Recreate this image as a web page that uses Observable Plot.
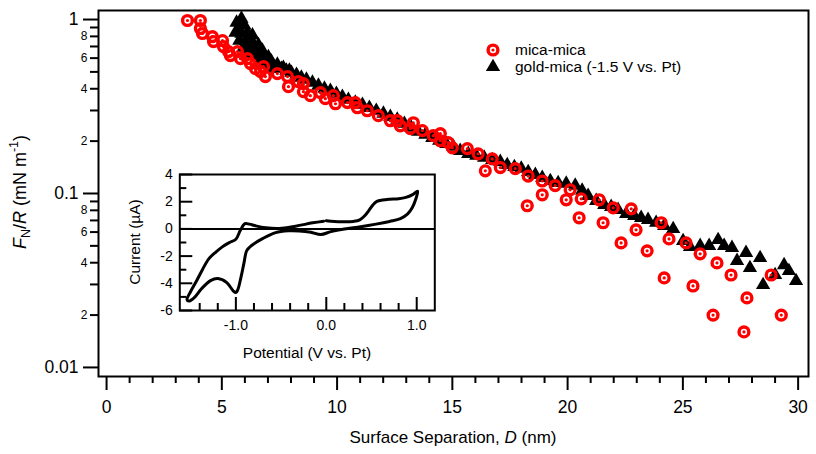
<!DOCTYPE html>
<html>
<head>
<meta charset="utf-8">
<script src="https://cdn.jsdelivr.net/npm/d3@7"></script>
<script src="https://cdn.jsdelivr.net/npm/@observablehq/plot@0.6"></script>
<style>
  body { margin: 0; background: #fff; }
  #chart { position: relative; width: 816px; height: 454px; font-family: "Liberation Sans", Arial, sans-serif; }
  #chart svg { position: absolute; left: 0; top: 0; overflow: visible; }
</style>
</head>
<body>
<div id="chart"></div>
<script>
// Normalised force vs. surface separation, mica-mica
const micaD = [3.51, 4.07, 4.07, 4.16, 4.59, 4.64, 5.03, 5.07, 5.29, 5.37, 5.68, 5.81, 6.11, 6.24, 6.46, 6.68, 6.89, 6.81, 7.41, 7.85,
  7.89, 8.32, 8.54, 8.54, 8.84, 9.28, 9.49, 9.84, 9.93, 10.45, 10.79, 10.88, 11.31, 11.79, 12.31, 12.61, 12.74, 13.18, 13.31, 13.70,
  14.17, 14.48, 14.48, 14.82, 15.00, 15.65, 16.12, 16.73, 16.43, 17.08, 17.73, 18.29, 18.90, 18.90, 18.25, 19.46, 20.11, 19.94, 20.50, 20.59,
  21.37, 21.54, 21.98, 22.32, 22.76, 22.97, 23.45, 24.06, 24.40, 24.19, 25.14, 25.44, 25.75, 26.48, 26.31, 27.09, 27.78, 27.65, 28.83, 29.27];
const micaF = [0.987, 0.987, 0.888, 0.831, 0.798, 0.747, 0.757, 0.699, 0.654, 0.621, 0.654, 0.596, 0.596, 0.558, 0.522, 0.502, 0.470, 0.536, 0.489, 0.470,
  0.411, 0.440, 0.385, 0.428, 0.365, 0.380, 0.351, 0.365, 0.328, 0.333, 0.333, 0.311, 0.299, 0.280, 0.262, 0.262, 0.245, 0.236, 0.255, 0.230,
  0.215, 0.221, 0.201, 0.196, 0.183, 0.181, 0.169, 0.158, 0.135, 0.141, 0.139, 0.126, 0.118, 0.0983, 0.0850, 0.111, 0.105, 0.0920, 0.0725, 0.0932,
  0.0920, 0.0679, 0.0827, 0.0520, 0.0816, 0.0618, 0.0468, 0.0679, 0.0548, 0.0327, 0.0520, 0.0294, 0.0450, 0.0399, 0.0200, 0.0340, 0.0251, 0.0160, 0.0340, 0.0200];

// gold-mica at -1.5 V vs. Pt
const goldD = [5.85, 5.64, 5.72, 5.98, 5.59, 5.85, 6.11, 5.76, 6.03, 6.29, 5.94, 6.20, 6.46, 6.11, 6.37, 6.63, 6.89, 6.59, 6.85, 7.15,
  7.41, 7.11, 7.67, 7.93, 6.33, 6.59, 6.76, 7.02, 6.50, 6.68, 7.02, 7.20, 7.37, 7.59, 7.80, 8.02, 8.24, 8.45,
  8.67, 8.93, 9.19, 9.45, 9.71, 9.97, 10.23, 10.49, 10.79, 11.10, 11.40, 11.70, 12.01, 12.31, 12.61, 12.92, 13.22, 13.52, 13.83, 14.13,
  14.43, 14.74, 15.04, 15.34, 15.69, 16.04, 16.38, 16.73, 17.08, 17.38, 17.69, 17.99, 18.29, 18.60, 18.90, 19.25, 19.59, 19.94, 20.33, 20.63,
  20.89, 21.24, 21.59, 21.89, 22.19, 22.54, 22.89, 23.19, 23.49, 23.84, 24.19, 24.58, 25.01, 25.31, 25.75, 26.14, 26.53, 26.79, 27.13, 27.35,
  27.74, 27.91, 28.35, 28.48, 29.00, 29.39, 29.60, 29.91];
const goldF = [1.013, 0.961, 0.888, 0.924, 0.842, 0.831, 0.842, 0.757, 0.757, 0.757, 0.690, 0.690, 0.681, 0.637, 0.621, 0.629, 0.596, 0.566, 0.551, 0.573,
  0.551, 0.522, 0.529, 0.509, 0.811, 0.715, 0.663, 0.610, 0.621, 0.596, 0.566, 0.551, 0.536, 0.522, 0.509, 0.495, 0.482, 0.464,
  0.452, 0.434, 0.417, 0.401, 0.390, 0.375, 0.360, 0.346, 0.333, 0.324, 0.311, 0.299, 0.288, 0.276, 0.266, 0.252, 0.239, 0.227, 0.218, 0.209,
  0.201, 0.193, 0.186, 0.176, 0.169, 0.165, 0.161, 0.156, 0.152, 0.146, 0.142, 0.139, 0.133, 0.128, 0.123, 0.118, 0.115, 0.114, 0.111, 0.104,
  0.0970, 0.0908, 0.0861, 0.0838, 0.0806, 0.0764, 0.0744, 0.0725, 0.0706, 0.0679, 0.0652, 0.0626, 0.0534, 0.0493, 0.0500, 0.0500, 0.0541, 0.0500, 0.0487, 0.0410,
  0.0456, 0.0373, 0.0426, 0.0298, 0.0340, 0.0388, 0.0359, 0.0314];

// Cyclic voltammogram (inset), in scan order
const cvPotential = [0.00, 0.16, 0.30, 0.37, 0.43, 0.47, 0.52, 0.56, 0.62, 0.70, 0.80, 0.88, 0.95, 1.01,
  0.99, 0.95, 0.90, 0.82, 0.70, 0.55, 0.38, 0.20, 0.05, -0.06, -0.17, -0.30, -0.42, -0.56, -0.70, -0.83,
  -0.88, -0.91, -0.945, -0.98, -1.00, -1.03, -1.10, -1.20, -1.28, -1.38, -1.46, -1.52, -1.54,
  -1.50, -1.44, -1.37, -1.30, -1.22, -1.15, -1.07, -1.00, -0.95, -0.90, -0.85, -0.78, -0.67, -0.52, -0.34, -0.15, -0.03];
const cvCurrent = [0.60, 0.52, 0.55, 0.66, 1.00, 1.35, 1.80, 2.02, 2.12, 2.18, 2.22, 2.32, 2.50, 2.77,
  2.20, 1.55, 1.10, 0.75, 0.55, 0.35, 0.16, 0.00, -0.20, -0.42, -0.25, -0.15, -0.14, -0.27, -0.70, -1.24,
  -1.60, -2.50, -3.60, -4.50, -4.68, -4.55, -3.95, -3.65, -3.80, -4.40, -5.05, -5.31, -5.20,
  -4.60, -3.89, -3.00, -2.20, -1.70, -1.32, -1.00, -0.76, -0.10, 0.38, 0.35, 0.22, 0.08, 0.03, 0.20, 0.45, 0.57];

// Tick values
const xMajor = [0, 5, 10, 15, 20, 25, 30];
const xMinor = [1, 2, 3, 4, 6, 7, 8, 9, 11, 12, 13, 14, 16, 17, 18, 19, 21, 22, 23, 24, 26, 27, 28, 29];
const yMajor = [0.01, 0.1, 1];
const yMajorLabels = ["0.01", "0.1", "1"];
const yMinor = [0.02, 0.03, 0.04, 0.05, 0.06, 0.07, 0.08, 0.09, 0.2, 0.3, 0.4, 0.5, 0.6, 0.7, 0.8, 0.9];
const yMinorLabels = ["2", "", "4", "", "6", "", "8", "", "2", "", "4", "", "6", "", "8", ""];
const cvXMajor = [-1, 0, 1];
const cvXLabels = ["-1.0", "0.0", "1.0"];
const cvXMinor = [-1.4, -1.2, -0.8, -0.6, -0.4, -0.2, 0.2, 0.4, 0.6, 0.8];
const cvYMajor = [-6, -4, -2, 0, 2, 4];
const cvYMinor = [-5, -3, -1, 1, 3];

const RED = "#ff0000";
const FONT = "'Liberation Sans', Arial, Helvetica, sans-serif";

const mica = micaD.map((d, i) => ({D: d, F: micaF[i]}));
const gold = goldD.map((d, i) => ({D: d, F: goldF[i]}));
const cv = cvPotential.map((e, i) => ({E: e, I: cvCurrent[i]}));

const main = Plot.plot({
  width: 816, height: 454,
  marginLeft: 98, marginRight: 8, marginTop: 10, marginBottom: 78,
  style: {fontFamily: FONT, background: "transparent", color: "black", overflow: "visible"},
  x: {domain: [-0.35, 30.45]},
  y: {type: "log", domain: [0.00887, 1.127]},
  marks: [
    Plot.axisX(xMinor, {tickSize: 7, strokeWidth: 2, text: () => "", label: null}),
    Plot.axisX(xMajor, {tickSize: 14, strokeWidth: 2, tickPadding: 10, fontSize: 17.5, text: d => String(d), label: null}),
    Plot.axisY(yMinor, {tickSize: 8, strokeWidth: 2, tickPadding: 3, fontSize: 12, text: (d, i) => yMinorLabels[i], label: null}),
    Plot.axisY(yMajor, {tickSize: 15, strokeWidth: 2, tickPadding: 5, fontSize: 17.5, text: (d, i) => yMajorLabels[i], label: null}),
    Plot.dot(gold, {x: "D", y: "F", symbol: "triangle", r: 5.3, fill: "black"}),
    Plot.dot(mica, {x: "D", y: "F", r: 4.9, stroke: RED, strokeWidth: 3.4, fill: "none"}),
    Plot.dot(mica, {x: "D", y: "F", r: 1.6, fill: RED}),
    Plot.frame({stroke: "black", strokeWidth: 2})
  ]
});

const chart = document.getElementById("chart");
chart.appendChild(main);

const ms = d3.select(main);

// Axis titles
const xt = ms.append("text")
  .attr("x", 453).attr("y", 443)
  .attr("text-anchor", "middle")
  .attr("font-family", FONT).attr("font-size", 17).attr("fill", "black");
xt.append("tspan").text("Surface Separation, ");
xt.append("tspan").attr("font-style", "italic").text("D");
xt.append("tspan").text(" (nm)");

const yt = ms.append("text")
  .attr("transform", "translate(26,192) rotate(-90)")
  .attr("text-anchor", "middle")
  .attr("font-family", FONT).attr("font-size", 18).attr("fill", "black");
yt.append("tspan").attr("font-style", "italic").text("F");
yt.append("tspan").attr("font-size", 12.5).attr("dy", 4).text("N");
yt.append("tspan").attr("dy", -4).text("/");
yt.append("tspan").attr("font-style", "italic").text("R");
yt.append("tspan").text(" (mN m");
yt.append("tspan").attr("font-size", 12.5).attr("dy", -8).text("-1");
yt.append("tspan").attr("dy", 8).text(")");

// Legend
const lg = ms.append("g").attr("font-family", FONT).attr("font-size", 15.5).attr("text-anchor", "start").attr("fill", "black");
const l1 = lg.append("g").attr("transform", "translate(493,50)");
l1.append("circle").attr("r", 4.9).attr("fill", "none").attr("stroke", RED).attr("stroke-width", 3.4);
l1.append("circle").attr("r", 1.6).attr("fill", RED);
lg.append("text").attr("x", 515).attr("y", 50).attr("dy", "0.35em").text("mica-mica");
lg.append("path").attr("transform", "translate(493,67)")
  .attr("d", d3.symbol(d3.symbolTriangle, Math.PI * 5.3 * 5.3)()).attr("fill", "black");
lg.append("text").attr("x", 515).attr("y", 67).attr("dy", "0.35em").text("gold-mica (-1.5 V vs. Pt)");

// Inset: cyclic voltammogram
const inset = Plot.plot({
  width: 340, height: 205,
  marginLeft: 79.3, marginRight: 5.7, marginTop: 14, marginBottom: 55,
  style: {fontFamily: FONT, background: "transparent", color: "black", overflow: "visible"},
  x: {domain: [-1.62, 1.2]},
  y: {domain: [-6, 4]},
  marks: [
    Plot.ruleY([0], {stroke: "black", strokeWidth: 2}),
    Plot.line(cv, {x: "E", y: "I", stroke: "black", strokeWidth: 3, curve: "catmull-rom", strokeLinejoin: "round"}),
    Plot.axisX(cvXMinor, {tickSize: -7, strokeWidth: 2, text: () => "", label: null}),
    Plot.axisX(cvXMajor, {tickSize: -13, strokeWidth: 2, text: () => "", label: null}),
    Plot.axisX(cvXMajor, {tickSize: 0, tickPadding: 10, fontSize: 14, text: (d, i) => cvXLabels[i], label: null}),
    Plot.axisY(cvYMinor, {tickSize: -7, strokeWidth: 2, text: () => "", label: null}),
    Plot.axisY(cvYMajor, {tickSize: -13, strokeWidth: 2, text: () => "", label: null}),
    Plot.axisY(cvYMajor, {tickSize: 0, tickPadding: 7, fontSize: 14, text: d => String(d), label: null}),
    Plot.frame({stroke: "black", strokeWidth: 2})
  ]
});
inset.style.left = "100px";
inset.style.top = "160px";
chart.appendChild(inset);

const is = d3.select(inset);
is.append("text")
  .attr("transform", "translate(35,82) rotate(-90)")
  .attr("text-anchor", "middle").attr("dy", "0.35em")
  .attr("font-family", FONT).attr("font-size", 15.5).attr("fill", "black")
  .text("Current (\u00B5A)");
is.append("text")
  .attr("x", 207).attr("y", 193).attr("dy", "0.35em")
  .attr("text-anchor", "middle")
  .attr("font-family", FONT).attr("font-size", 15.5).attr("fill", "black")
  .text("Potential (V vs. Pt)");
</script>
</body>
</html>
